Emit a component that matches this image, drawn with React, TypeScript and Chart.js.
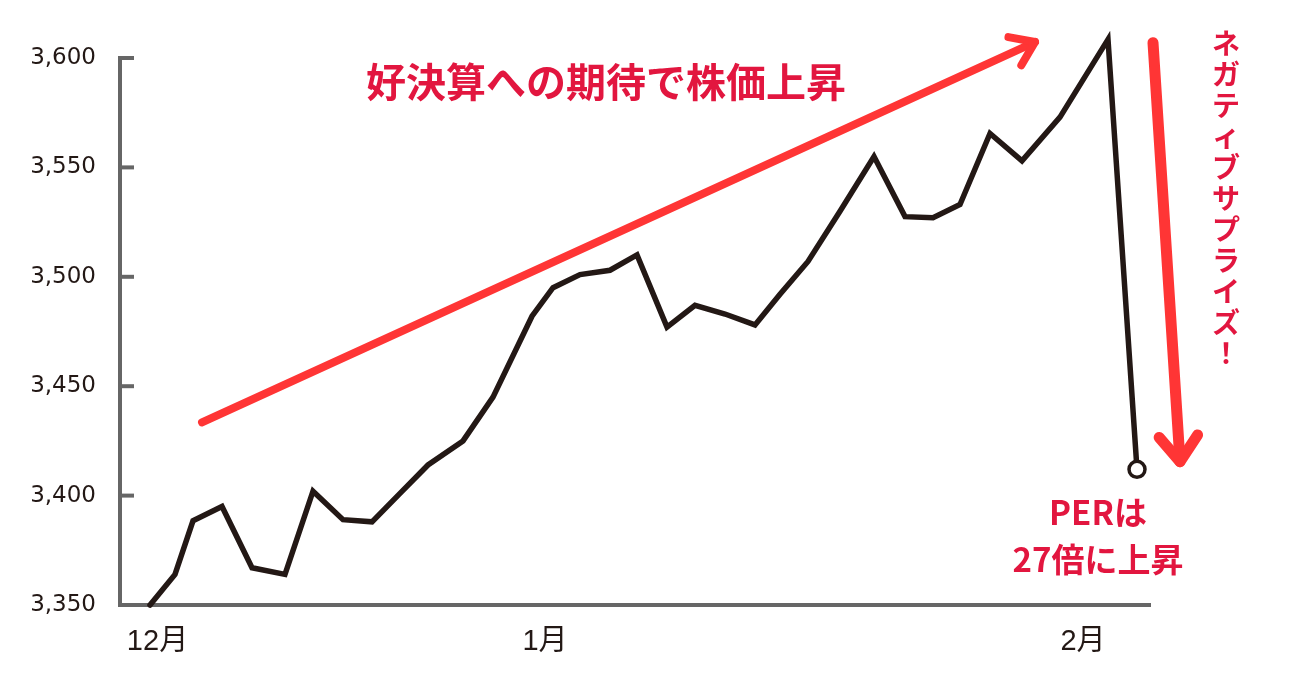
import React, { useEffect, useRef } from "react";
import { Chart, registerables } from "chart.js";

Chart.register(...registerables);

// ---- data (x = trading-day position, y = index value) ----
const dayPos = [
  3.0, 5.5, 7.3, 10.2, 13.2, 16.5, 19.3, 22.3, 25.2, 28.0, 30.8, 34.3, 37.3, 41.2, 43.3, 46.0, 49.0,
  51.7, 54.7, 57.5, 60.5, 63.5, 66.0, 68.8, 72.0, 75.4, 78.5, 81.3, 84.0, 87.0, 90.2, 94.0, 98.8, 101.7,
];
const prices = [
  3350, 3364, 3388.5, 3395, 3367, 3364, 3402, 3389, 3388, 3401, 3414, 3425, 3445, 3482, 3495, 3501, 3503,
  3510, 3477, 3487, 3483, 3478, 3492, 3507, 3530, 3555, 3527.5, 3527, 3533, 3565.5, 3553, 3573, 3608.5, 3412,
];
const monthPos = [3.75, 42.5, 96.3];
const monthLabels = ["12月", "1月", "2月"];
const yMin = 3350;
const yMax = 3600;
const yStep = 50;

const titleText = "好決算への期待で株価上昇";
const sideText = "ネガティブサプライズ！";
const perLines = ["PERは", "27倍に上昇"];

// annotation anchors (data units)
const upArrowFrom = [8.2, 3433.5];
const upArrowTo = [91.5, 3607.3];
const downArrowFrom = [103.3, 3607];
const downArrowTo = [106.0, 3415.5];
const titleAnchor = [24.6, 3589];
const sideAnchor = [110.6, 3606.9];
const perAnchor = [97.8, 3392.2];

// ---- styles ----
const LINE = "#231815";
const AXIS = "#666666";
const RED = "#ff3535";
const TEXT_RED = "#e2163f";
const LABEL = "#231815";
const JP = "'Noto Sans CJK JP', 'Noto Sans', sans-serif";

function drawArrow(
  ctx: CanvasRenderingContext2D,
  x1: number, y1: number, x2: number, y2: number,
  width: number, headLen: number, headAngle: number, color: string
) {
  const ang = Math.atan2(y2 - y1, x2 - x1);
  const back = ang + Math.PI;
  ctx.save();
  ctx.strokeStyle = color;
  ctx.lineWidth = width;
  ctx.lineCap = "round";
  ctx.lineJoin = "round";
  ctx.beginPath();
  ctx.moveTo(x1, y1);
  ctx.lineTo(x2, y2);
  ctx.stroke();
  ctx.beginPath();
  ctx.moveTo(x2 + headLen * Math.cos(back + headAngle), y2 + headLen * Math.sin(back + headAngle));
  ctx.lineTo(x2, y2);
  ctx.lineTo(x2 + headLen * Math.cos(back - headAngle), y2 + headLen * Math.sin(back - headAngle));
  ctx.stroke();
  ctx.restore();
}

const annotPlugin = {
  id: "annot",
  beforeDatasetsDraw(chart: any) {
    const { ctx, scales, chartArea } = chart;
    const y = scales.y;
    ctx.save();
    ctx.strokeStyle = AXIS;
    ctx.lineWidth = 4;
    y.ticks.forEach((t: any) => {
      const yy = y.getPixelForValue(t.value);
      ctx.beginPath();
      ctx.moveTo(chartArea.left, yy);
      ctx.lineTo(chartArea.left + 14, yy);
      ctx.stroke();
    });
    ctx.restore();
  },
  afterDraw(chart: any) {
    const { ctx, scales } = chart;
    const px = (v: number) => scales.x.getPixelForValue(v);
    const py = (v: number) => scales.y.getPixelForValue(v);

    drawArrow(ctx, px(upArrowFrom[0]), py(upArrowFrom[1]), px(upArrowTo[0]), py(upArrowTo[1]), 8, 27, (35 * Math.PI) / 180, RED);
    drawArrow(ctx, px(downArrowFrom[0]), py(downArrowFrom[1]), px(downArrowTo[0]), py(downArrowTo[1]), 11, 32, (37 * Math.PI) / 180, RED);

    ctx.save();
    ctx.fillStyle = TEXT_RED;
    ctx.font = `bold 40px ${JP}`;
    ctx.textAlign = "left";
    ctx.textBaseline = "middle";
    ctx.fillText(titleText, px(titleAnchor[0]), py(titleAnchor[1]));

    ctx.font = `bold 28px ${JP}`;
    ctx.textAlign = "center";
    const chars = Array.from(sideText);
    const sx = px(sideAnchor[0]);
    const sy = py(sideAnchor[1]);
    chars.forEach((c, i) => {
      ctx.fillText(c, sx, sy + i * 31);
    });

    ctx.font = `bold 33px ${JP}`;
    perLines.forEach((t, i) => {
      ctx.fillText(t, px(perAnchor[0]), py(perAnchor[1]) + i * 47);
    });
    ctx.restore();
  },
};

export default function App() {
  const ref = useRef<HTMLCanvasElement | null>(null);

  useEffect(() => {
    if (!ref.current) return;
    const pts = dayPos.map((d, i) => ({ x: d, y: prices[i] }));
    const last = pts.length - 1;
    const chart = new Chart(ref.current, {
      type: "line",
      data: {
        datasets: [
          {
            data: pts,
            borderColor: LINE,
            borderWidth: 5.5,
            borderCapStyle: "round",
            borderJoinStyle: "miter",
            tension: 0,
            clip: false as any,
            pointRadius: pts.map((_, i) => (i === last ? 8 : 0)),
            pointHoverRadius: pts.map((_, i) => (i === last ? 8 : 0)),
            pointBackgroundColor: "#ffffff",
            pointBorderColor: LINE,
            pointBorderWidth: 3.5,
          },
        ],
      },
      options: {
        animation: false,
        responsive: true,
        maintainAspectRatio: false,
        layout: { padding: { top: 58, right: 150, bottom: 28, left: 0 } },
        plugins: { legend: { display: false }, tooltip: { enabled: false } },
        events: [],
        scales: {
          x: {
            type: "linear",
            min: 0,
            max: 103,
            grid: { display: false },
            border: { display: true, color: AXIS, width: 4 },
            afterBuildTicks: (s: any) => {
              s.ticks = monthPos.map((v) => ({ value: v }));
            },
            afterFit: (s: any) => {
              s.height = 50;
            },
            ticks: {
              autoSkip: false,
              maxRotation: 0,
              padding: 12,
              color: LABEL,
              font: { family: "'Liberation Sans', 'Noto Sans CJK JP', sans-serif", size: 29 },
              callback: (v: any) => {
                const idx = monthPos.findIndex((m) => Math.abs(m - Number(v)) < 1e-6);
                return idx >= 0 ? monthLabels[idx] : "";
              },
            },
          },
          y: {
            min: yMin,
            max: yMax,
            grid: { display: false },
            border: { display: true, color: AXIS, width: 4 },
            afterFit: (s: any) => {
              s.width = 120;
            },
            ticks: {
              stepSize: yStep,
              padding: 16,
              color: LABEL,
              font: { family: "'DejaVu Sans', sans-serif", size: 23 },
              callback: (v: any) => Number(v).toLocaleString("en-US"),
            },
          },
        },
      },
      plugins: [annotPlugin],
    });
    return () => chart.destroy();
  }, []);

  return (
    <div style={{ position: "absolute", left: 0, top: 0, width: 1300, height: 683, background: "#fff" }}>
      <canvas ref={ref} />
    </div>
  );
}
